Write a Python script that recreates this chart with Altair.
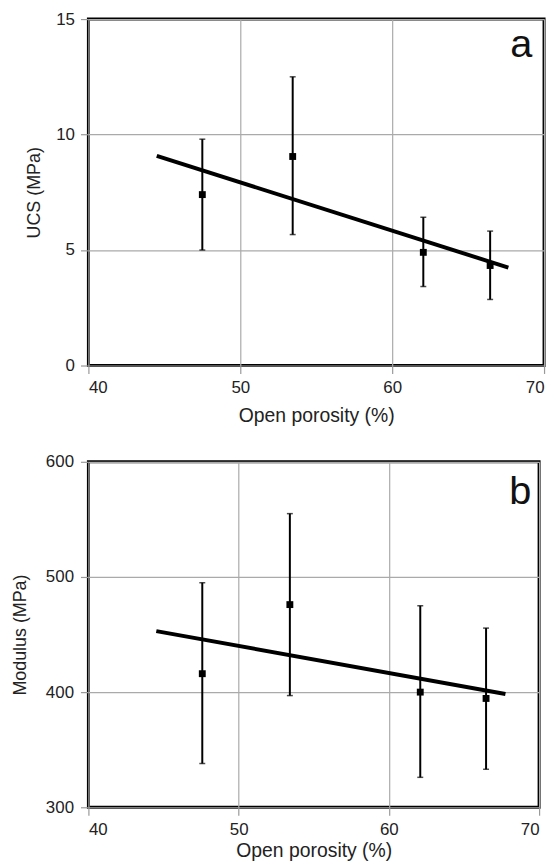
import altair as alt
import pandas as pd

# Panel a: UCS vs open porosity
por_a = [47.5, 53.45, 62.05, 66.45]
ucs = [7.4, 9.05, 4.9, 4.33]
ucs_lo = [5.0, 5.67, 3.42, 2.86]
ucs_hi = [9.8, 12.5, 6.42, 5.82]
fit_a_x = [44.5, 67.65]
fit_a_y = [9.08, 4.24]

# Panel b: Modulus vs open porosity
por_b = [47.58, 53.41, 62.09, 66.47]
modulus = [416, 476, 400, 394.5]
mod_lo = [338, 397, 326, 333]
mod_hi = [495, 555, 475, 455.6]
fit_b_x = [44.52, 67.76]
fit_b_y = [453, 398.3]

x_ticks = [40, 50, 60, 70]
ucs_ticks = [0, 5, 10, 15]
mod_ticks = [300, 400, 500, 600]

FONT = "Liberation Sans"


def panel(x, y, lo, hi, fx, fy, ydom, yticks, ytitle, letter, w, h,
          lpad, tpad, xtpad, lx, ly):
    d = pd.DataFrame({"x": x, "y": y, "lo": lo, "hi": hi})
    f = pd.DataFrame({"x": fx, "y": fy})
    xs = alt.Scale(domain=[40, 70], nice=False, zero=False)
    ys = alt.Scale(domain=ydom, nice=False, zero=False)
    xax = alt.Axis(values=x_ticks, title="Open porosity (%)", labelPadding=6,
                   titlePadding=xtpad, titleFontSize=19.5)
    yax = alt.Axis(values=yticks, title=ytitle, labelPadding=lpad, titlePadding=tpad,
                   titleFontSize=18)
    bars = alt.Chart(d).mark_rule(color="black", strokeWidth=2).encode(
        x=alt.X("x:Q", scale=xs, axis=xax),
        y=alt.Y("lo:Q", scale=ys, axis=yax),
        y2="hi:Q",
    )
    cap_hi = alt.Chart(d).mark_tick(orient="horizontal", size=6, thickness=1.5,
                                    color="black").encode(x="x:Q", y="hi:Q")
    cap_lo = alt.Chart(d).mark_tick(orient="horizontal", size=6, thickness=1.5,
                                    color="black").encode(x="x:Q", y="lo:Q")
    line = alt.Chart(f).mark_line(color="black", strokeWidth=4).encode(
        x="x:Q", y="y:Q")
    pts = alt.Chart(d).mark_square(size=48, color="black", opacity=1).encode(
        x="x:Q", y="y:Q")
    lab = alt.Chart(pd.DataFrame({"t": [letter]})).mark_text(
        fontSize=40, font=FONT, align="center", baseline="alphabetic",
        color="#111").encode(text="t:N", x=alt.value(w - lx), y=alt.value(ly))
    return alt.layer(bars, cap_hi, cap_lo, line, pts, lab).properties(width=w, height=h)


top = panel(por_a, ucs, ucs_lo, ucs_hi, fit_a_x, fit_a_y, [0, 15], ucs_ticks,
            "UCS (MPa)", "a", 459, 349, 6, 12, 11, 23, 38)
bottom = panel(por_b, modulus, mod_lo, mod_hi, fit_b_x, fit_b_y, [300, 600], mod_ticks,
               "Modulus (MPa)", "b", 454, 348, 7, 16, 5, 19, 42)

chart = alt.concat(top, bottom, columns=1, spacing=25, align="none").properties(
    padding={"left": 2, "top": -3, "right": 5, "bottom": 0}
).configure_view(
    stroke="black", strokeWidth=3
).configure_axis(
    domain=False,
    grid=True,
    gridColor="#aaaaaa",
    gridWidth=1.2,
    tickColor="#999999",
    tickSize=8,
    tickWidth=1.2,
    labelFont=FONT,
    labelFontSize=17,
    labelColor="#222222",
    titleFont=FONT,
    titleFontWeight="normal",
    titleColor="#222222",
)

chart.save("out.html", embed_options={"renderer": "svg", "actions": False})
